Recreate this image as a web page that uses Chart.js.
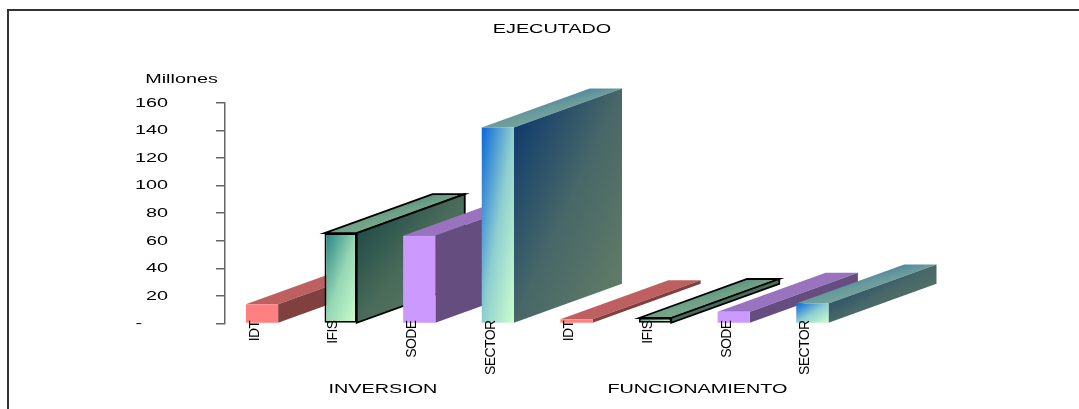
<!DOCTYPE html>
<html>
<head>
<meta charset="utf-8">
<style>
  html, body { margin: 0; padding: 0; background: #fff; }
  canvas { display: block; }
</style>
<script src="https://cdn.jsdelivr.net/npm/chart.js@4/dist/chart.umd.min.js"></script>
</head>
<body>
<canvas id="chart" width="1079" height="409"></canvas>
<script>
const categories = ["IDT", "IFIS", "SODE", "SECTOR", "IDT", "IFIS", "SODE", "SECTOR"];
const inversion = [14, 65.5, 63.5, 142];
const funcionamiento = [3, 4, 8.5, 14.5];
const groups = ["INVERSION", "FUNCIONAMIENTO"];
const yTicks = ["-", "20", "40", "60", "80", "100", "120", "140", "160"];
const chartTitle = "EJECUTADO";
const yUnit = "Millones";

// start and end colour of the front face, repeated for both groups
const frontColors = [
  ["#ff8080", "#ff8080"],
  ["#1f8080", "#ccffcc"],
  ["#cc99ff", "#cc99ff"],
  ["#0a66d9", "#ccffcc"]
];

const DEPTH_X = 108;
const DEPTH_Y = -39;
const WIDE = 1.65;
const FONT = '12px "Liberation Sans"';

const rgb = (hex) => {
  const n = parseInt(hex.slice(1), 16);
  return [(n >> 16) & 255, (n >> 8) & 255, n & 255];
};

const mix = (from, to, t, k) => {
  const a = rgb(from);
  const b = rgb(to);
  return `rgb(${a.map((v, i) => Math.round((v + (b[i] - v) * t) * k)).join(",")})`;
};

// corner to corner gradient, both other corners get the middle colour
const diagonal = (ctx, x, y, w, h, from, to, k) => {
  const t = (2 * w * h) / (w * w + h * h);
  const g = ctx.createLinearGradient(x, y, x + h * t, y + w * t);
  g.addColorStop(0, mix(from, to, 0, k));
  g.addColorStop(0.5, mix(from, to, 0.68, k));
  g.addColorStop(1, mix(from, to, 1, k));
  return g;
};

const poly = (ctx, pts, fill, outline) => {
  ctx.beginPath();
  pts.forEach((p, i) => (i ? ctx.lineTo(p[0], p[1]) : ctx.moveTo(p[0], p[1])));
  ctx.closePath();
  ctx.fillStyle = fill;
  ctx.fill();
  if (outline) {
    ctx.lineWidth = 1.8;
    ctx.strokeStyle = "#000";
    ctx.stroke();
  }
};

const box3d = {
  id: "box3d",
  afterLayout(chart) {
    // x labels start above the base line, the scale clips them to its own box
    chart.scales.x.top -= 3;
  },
  beforeDraw(chart) {
    // tick labels of the x axis sit tight in the reference
    chart.ctx.letterSpacing = "-0.6px";
  },
  beforeDatasetsDraw(chart) {
    const ctx = chart.ctx;
    chart.getDatasetMeta(0).data.forEach((bar, i) => {
      const [from, to] = frontColors[i % 4];
      const l = bar.x - bar.width / 2;
      const r = bar.x + bar.width / 2;
      const t = bar.y;
      const b = bar.base;
      const outline = i % 4 === 1;
      // top face
      poly(ctx,
        [[l, t], [r, t], [r + DEPTH_X, t + DEPTH_Y], [l + DEPTH_X, t + DEPTH_Y]],
        diagonal(ctx, l, t + DEPTH_Y, bar.width + DEPTH_X, -DEPTH_Y, from, to, 0.75),
        outline);
      // side face
      poly(ctx,
        [[r, t], [r + DEPTH_X, t + DEPTH_Y], [r + DEPTH_X, b + DEPTH_Y], [r, b]],
        diagonal(ctx, r, t + DEPTH_Y, DEPTH_X, b - t - DEPTH_Y, from, to, 0.5),
        outline);
      bar.options = Object.assign({}, bar.options, {
        backgroundColor: diagonal(ctx, l, t, bar.width, b - t, from, to, 1)
      });
    });
  }
};

const wideText = (ctx, text, x, y, align) => {
  ctx.save();
  ctx.translate(x, y);
  ctx.scale(WIDE, 1);
  ctx.font = FONT;
  ctx.letterSpacing = "0px";
  ctx.fillStyle = "#000";
  ctx.textAlign = align;
  ctx.textBaseline = "middle";
  ctx.fillText(text, 0, 0);
  ctx.restore();
};

const labels = {
  id: "labels",
  afterDraw(chart) {
    const ctx = chart.ctx;
    const { x, y } = chart.scales;
    // frame runs off the right and bottom of the picture
    ctx.save();
    ctx.strokeStyle = "#333";
    ctx.lineWidth = 2;
    ctx.beginPath();
    ctx.moveTo(8, 430);
    ctx.lineTo(8, 10);
    ctx.lineTo(1090, 10);
    ctx.stroke();
    ctx.restore();

    wideText(ctx, chartTitle, 552, 29.5, "center");
    wideText(ctx, yUnit, 181.5, 80, "center");
    y.ticks.forEach((tick, i) => {
      const right = i === 0 ? 142 : 168;
      wideText(ctx, yTicks[i], right, y.getPixelForTick(i) + 0.5, "right");
    });
    groups.forEach((name, i) => {
      const mid = (x.getPixelForValue(i * 4 + 1) + x.getPixelForValue(i * 4 + 2)) / 2;
      wideText(ctx, name, mid + 3, 390, "center");
    });
  }
};

new Chart(document.getElementById("chart"), {
  type: "bar",
  data: {
    labels: categories,
    datasets: [{
      data: [...inversion, ...funcionamiento],
      backgroundColor: frontColors.concat(frontColors).map((c) => c[0]),
      borderColor: "#000",
      borderWidth: categories.map((c, i) => (i % 4 === 1 ? 1.8 : 0)),
      borderSkipped: false,
      categoryPercentage: 1,
      barPercentage: 0.41
    }]
  },
  plugins: [box3d, labels],
  options: {
    responsive: false,
    animation: false,
    events: [],
    layout: { padding: { top: 102.7, bottom: 0, left: 222.7, right: 227.3 } },
    plugins: { legend: { display: false }, title: { display: false }, tooltip: { enabled: false } },
    scales: {
      x: {
        grid: { display: false, drawTicks: false },
        border: { display: false },
        ticks: {
          z: 1,
          autoSkip: false,
          minRotation: 90,
          maxRotation: 90,
          padding: 0,
          labelOffset: -7,
          color: "#000",
          font: { family: "Liberation Sans", size: 14 }
        },
        afterFit(scale) { scale.height = 85.5; }
      },
      y: {
        position: { x: -0.48 },
        min: 0,
        max: 160,
        grid: { drawOnChartArea: false, tickLength: 8, color: "#666", lineWidth: 1.5 },
        border: { color: "#666", width: 1.5 },
        ticks: { display: false, stepSize: 20 }
      }
    }
  }
});
</script>
</body>
</html>
